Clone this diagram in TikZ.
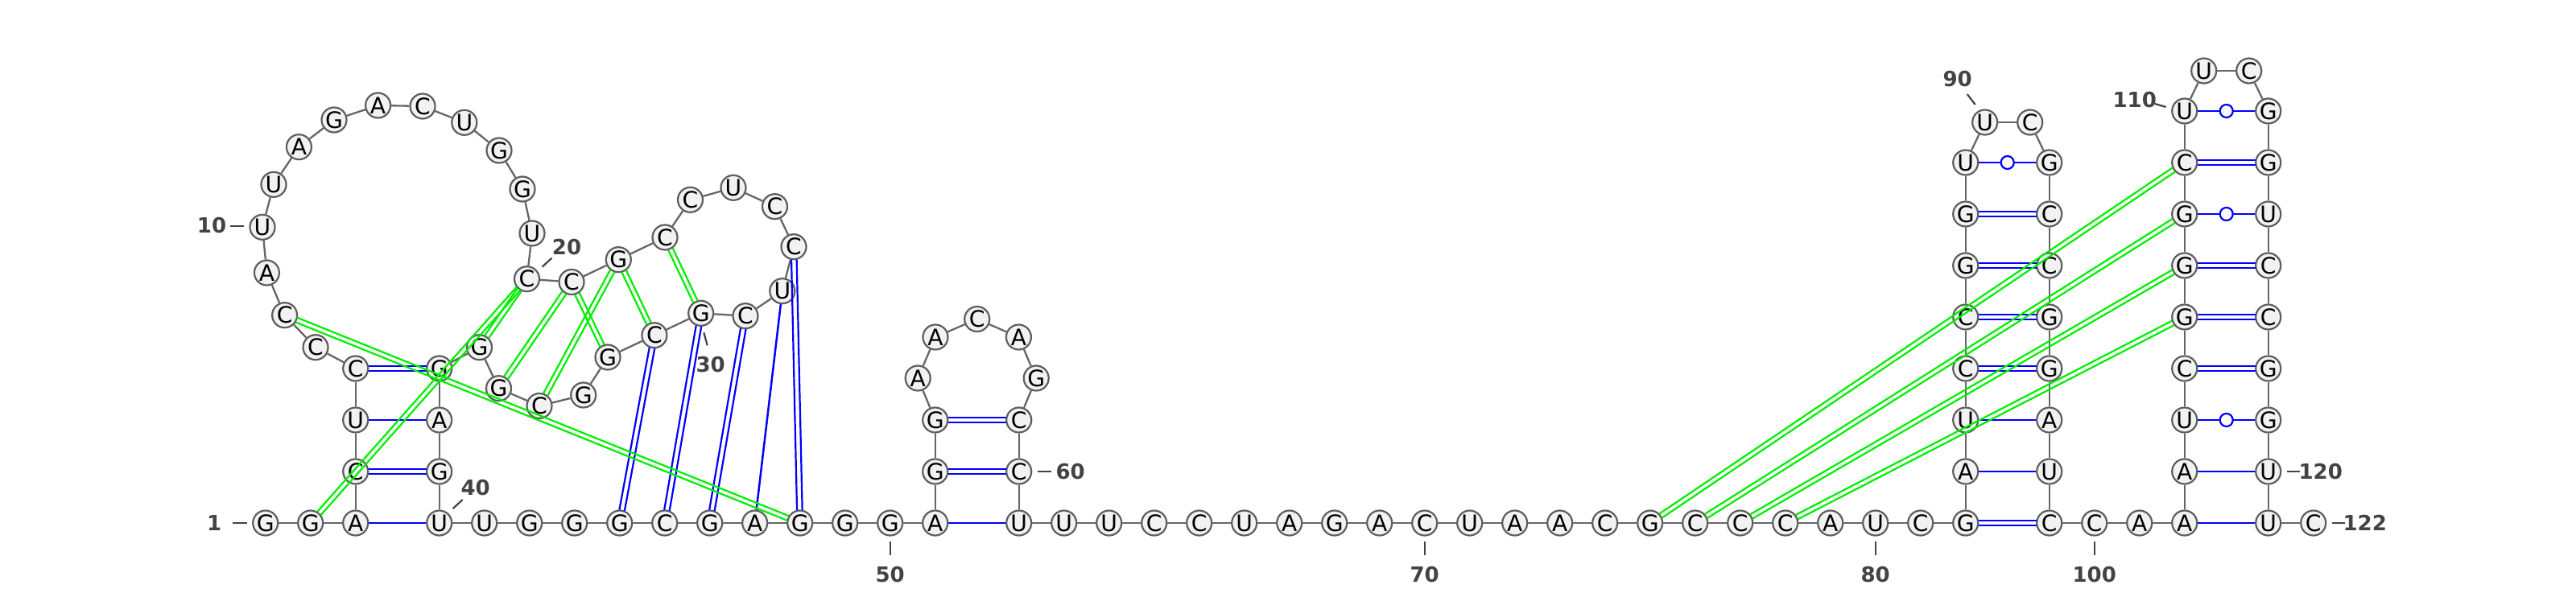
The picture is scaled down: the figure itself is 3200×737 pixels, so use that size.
\documentclass[tikz,border=0pt]{standalone}
\usepackage{fontspec}
\setmainfont{DejaVu Sans}
\usetikzlibrary{calc}
\definecolor{basefill}{HTML}{F2F2F2}
\definecolor{baseedge}{HTML}{5E5E5E}
\definecolor{backbone}{HTML}{666666}
\definecolor{pairblue}{HTML}{0000FF}
\definecolor{pairgreen}{HTML}{00EE00}
\definecolor{numgray}{HTML}{434343}
\tikzset{
  nuc/.style={circle,draw=baseedge,fill=basefill,line width=0.022cm,
              minimum size=0.31cm,inner sep=0pt,font=\fontsize{8}{9}\selectfont},
  bb/.style={draw=backbone,line width=0.023cm},
  wc/.style={draw=pairblue,line width=0.025cm},
  wcc/.style={draw=pairblue,line width=0.022cm,shorten <=0.16cm,shorten >=0.16cm},
  wobble/.style={circle,draw=pairblue,fill=white,line width=0.022cm,
                 minimum size=0.16cm,inner sep=0pt},
  tert/.style={draw=pairgreen,line width=0.022cm,shorten <=0.16cm,shorten >=0.16cm},
  numlabel/.style={text=numgray,inner sep=0pt,font=\fontsize{7.4}{8}\selectfont\bfseries},
  numtick/.style={draw=numgray,line width=0.022cm}
}
\begin{document}
\begin{tikzpicture}[x=0.01cm,y=-0.01cm]
  \useasboundingbox (0,0) rectangle (3200,737);
  % bottom strand
  \foreach \s [count=\i from 1] in {G,G,A}
    \node[nuc] (n\i) at ({329.7+56*(\i-1)},650) {\s};
  \foreach \s [count=\i from 40] in {U,U,G,G,G,C,G,A,G,G,G,A}
    \node[nuc] (n\i) at ({545.7+56*(\i-40)},650) {\s};
  \foreach \s [count=\i from 61] in {U,U,U,C,C,U,A,G,A,C,U,A,A,C,G,C,C,C,A,U,C,G}
    \node[nuc] (n\i) at ({1265.7+56*(\i-61)},650) {\s};
  \foreach \s [count=\i from 99] in {C,C,A,A}
    \node[nuc] (n\i) at ({2545.7+56*(\i-99)},650) {\s};
  \node[nuc] (n121) at (2817.7,650) {U};
  \node[nuc] (n122) at (2873.7,650) {C};
  % first hairpin and the loop above it
  \foreach \s [count=\i from 4] in {C,U,C}
    \node[nuc] (n\i) at (441.7,{586-64*(\i-4)}) {\s};
  \foreach \s [count=\i from 37] in {G,A,G}
    \node[nuc] (n\i) at (545.7,{458+64*(\i-37)}) {\s};
  \node[nuc] (n7) at (392,431.7) {C};
  \node[nuc] (n8) at (353.6,391.7) {C};
  \node[nuc] (n9) at (331.4,339) {A};
  \node[nuc] (n10) at (326,282.3) {U};
  \node[nuc] (n11) at (340,229.3) {U};
  \node[nuc] (n12) at (371.4,182.7) {A};
  \node[nuc] (n13) at (415,149) {G};
  \node[nuc] (n14) at (469.6,131) {A};
  \node[nuc] (n15) at (525,132) {C};
  \node[nuc] (n16) at (576.8,152.3) {U};
  \node[nuc] (n17) at (620,187) {G};
  \node[nuc] (n18) at (649,235) {G};
  \node[nuc] (n19) at (661,290) {U};
  \node[nuc] (n20) at (654.5,346.7) {C};
  \node[nuc] (n21) at (710,350.5) {C};
  \node[nuc] (n22) at (768.3,322.7) {G};
  \node[nuc] (n23) at (826,295) {C};
  \node[nuc] (n24) at (857.5,248.3) {C};
  \node[nuc] (n25) at (911,233.3) {U};
  \node[nuc] (n26) at (962.5,256.7) {C};
  \node[nuc] (n27) at (986,306.7) {C};
  \node[nuc] (n28) at (971.8,361.7) {U};
  \node[nuc] (n29) at (926,392.7) {C};
  \node[nuc] (n30) at (870.7,389.3) {G};
  \node[nuc] (n31) at (812.9,416.7) {C};
  \node[nuc] (n32) at (755,444) {G};
  \node[nuc] (n33) at (724.7,491) {G};
  \node[nuc] (n34) at (670,504.5) {C};
  \node[nuc] (n35) at (619.5,482.7) {G};
  \node[nuc] (n36) at (595.5,431.7) {G};
  % small hairpin
  \node[nuc] (n52) at (1161.7,586) {G};
  \node[nuc] (n53) at (1161.7,522) {G};
  \node[nuc] (n54) at (1140.2,470) {A};
  \node[nuc] (n55) at (1162,419) {A};
  \node[nuc] (n56) at (1213.7,396.5) {C};
  \node[nuc] (n57) at (1265.4,419) {A};
  \node[nuc] (n58) at (1287.2,470) {G};
  \node[nuc] (n59) at (1265.7,522) {C};
  \node[nuc] (n60) at (1265.7,586) {C};
  % the two long hairpins
  \foreach \s [count=\i from 83] in {A,U,C,C,G,G,U}
    \node[nuc] (n\i) at (2441.7,{586-64*(\i-83)}) {\s};
  \node[nuc] (n90) at (2465.7,152) {U};
  \node[nuc] (n91) at (2521.7,152) {C};
  \foreach \s [count=\i from 92] in {G,C,C,G,G,A,U}
    \node[nuc] (n\i) at (2545.7,{202+64*(\i-92)}) {\s};
  \foreach \s [count=\i from 103] in {A,U,C,G,G,G,C,U}
    \node[nuc] (n\i) at (2713.7,{586-64*(\i-103)}) {\s};
  \node[nuc] (n111) at (2737.7,88) {U};
  \node[nuc] (n112) at (2793.7,88) {C};
  \foreach \s [count=\i from 113] in {G,G,U,C,C,G,G,U}
    \node[nuc] (n\i) at (2817.7,{138+64*(\i-113)}) {\s};
  % backbone
  \foreach \i [count=\j from 2] in {1,...,121}
    \draw[bb] (n\i) -- (n\j);
  % base pairs
  \foreach \a/\b in {3/40,5/38,28/47,51/61,83/98,84/97,102/121,103/120}
    \draw[wc] (n\a) -- (n\b);
  \foreach \a/\b in {4/39,6/37,27/48,29/46,30/45,31/44,52/60,53/59,82/99,85/96,86/95,
                     87/94,88/93,105/118,106/117,107/116,109/114} {
    \draw[wcc] ($(n\a)!0.033cm!90:(n\b)$) -- ($(n\b)!0.033cm!-90:(n\a)$);
    \draw[wcc] ($(n\a)!0.033cm!-90:(n\b)$) -- ($(n\b)!0.033cm!90:(n\a)$);
  }
  \foreach \a/\b in {89/92,104/119,108/115,110/113}
    \draw[wc] (n\a) -- (n\b) node[wobble,midway] (w\a) {};
  \foreach \a/\b in {8/48,2/20,20/36,21/35,21/32,22/34,22/31,23/30,
                     75/109,76/108,77/107,78/106} {
    \draw[tert] ($(n\a)!0.03cm!90:(n\b)$) -- ($(n\b)!0.03cm!-90:(n\a)$);
    \draw[tert] ($(n\a)!0.03cm!-90:(n\b)$) -- ($(n\b)!0.03cm!90:(n\a)$);
  }
  % numbering
  \path (n1) ++(-63.6,0) node[numlabel] (l1) {1};
  \draw[numtick] (n1) ++(-41,0) -- ++(18,0);
  \path (n10) ++(-63,-2) node[numlabel] (l10) {10};
  \draw[numtick] (n10) ++(-40.3,-1) -- ++(17.2,0);
  \path (n20) ++(49.5,-39.4) node[numlabel] (l20) {20};
  \draw[numtick] (n20) ++(19,-15) -- ++(12,-11);
  \path (n30) ++(12,64) node[numlabel] (l30) {30};
  \draw[numtick] (n30) ++(3.6,24) -- ++(4.4,16);
  \path (n40) ++(45,-44) node[numlabel] (l40) {40};
  \draw[numtick] (n40) ++(17,-18) -- ++(12,-11);
  \path (n50) ++(0,64) node[numlabel] (l50) {50};
  \draw[numtick] (n50) ++(0,23) -- ++(0,17);
  \path (n60) ++(64,0) node[numlabel] (l60) {60};
  \draw[numtick] (n60) ++(23,0) -- ++(17,0);
  \path (n70) ++(0,64) node[numlabel] (l70) {70};
  \draw[numtick] (n70) ++(0,23) -- ++(0,17);
  \path (n80) ++(0,64) node[numlabel] (l80) {80};
  \draw[numtick] (n80) ++(0,23) -- ++(0,17);
  \path (n90) ++(-34,-54) node[numlabel] (l90) {90};
  \draw[numtick] (n90) ++(-22,-35) -- ++(10,13);
  \path (n100) ++(0,64) node[numlabel] (l100) {100};
  \draw[numtick] (n100) ++(0,23) -- ++(0,17);
  \path (n110) ++(-62,-14) node[numlabel] (l110) {110};
  \draw[numtick] (n110) ++(-37,-9) -- ++(14,4);
  \path (n120) ++(65,0) node[numlabel] (l120) {120};
  \draw[numtick] (n120) ++(23,0) -- ++(16,0);
  \path (n122) ++(64,0) node[numlabel] (l122) {122};
  \draw[numtick] (n122) ++(23,0) -- ++(16,0);
\end{tikzpicture}
\end{document}
